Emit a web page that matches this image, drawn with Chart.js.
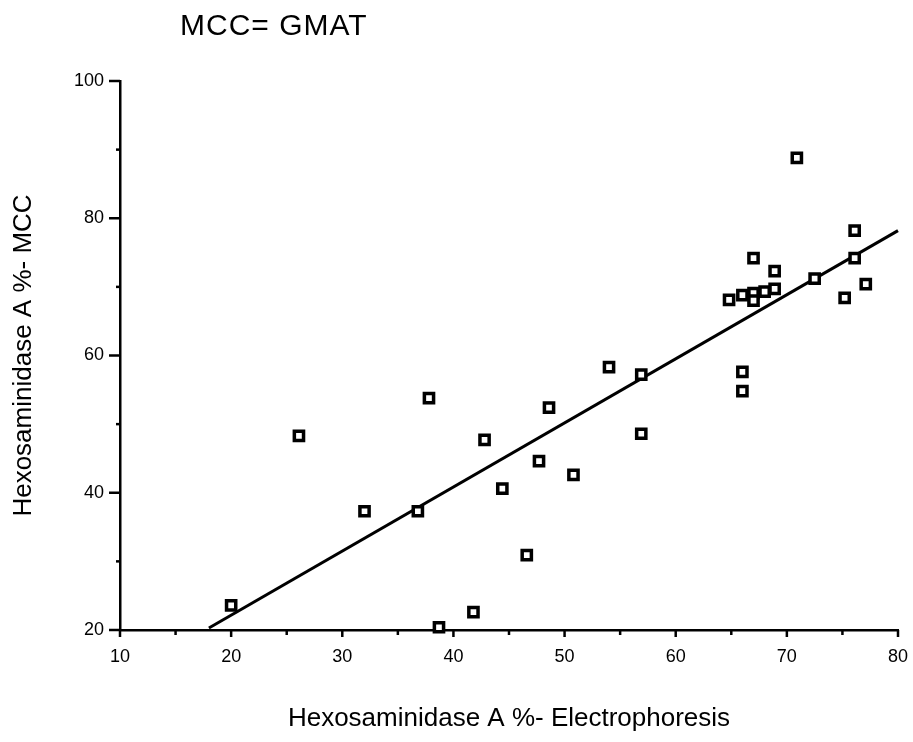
<!DOCTYPE html>
<html>
<head>
<meta charset="utf-8">
<script src="https://cdn.jsdelivr.net/npm/chart.js@4/dist/chart.umd.min.js"></script>
<style>
html,body{margin:0;padding:0;background:#fff;}
#wrap{width:913px;height:742px;position:relative;}
canvas{display:block;}
</style>
</head>
<body>
<div id="wrap"><canvas id="c" width="913" height="742"></canvas></div>
<script>
// Data
const electrophoresis = [20, 26.1, 32.0, 36.8, 37.8, 38.7, 41.8, 42.8, 44.4, 46.6, 47.7, 48.6, 50.8, 54.0, 56.9, 56.9, 64.8, 66.0, 66.0, 66.0, 67.0, 67.0, 67.0, 68.0, 68.9, 68.9, 70.9, 72.5, 75.2, 76.1, 76.1, 77.1];
const mcc = [23.6, 48.3, 37.3, 37.3, 53.8, 20.4, 22.6, 47.7, 40.6, 30.9, 44.6, 52.4, 42.6, 58.3, 57.2, 48.6, 68.1, 68.8, 57.6, 54.8, 74.2, 69.1, 68.0, 69.3, 72.3, 69.7, 88.8, 71.2, 68.4, 78.2, 74.2, 70.4];
const fitX = [18, 80];
const fitY = [20.3, 78.2];
const xMajorTicks = [10, 20, 30, 40, 50, 60, 70, 80];
const xMinorTicks = [15, 25, 35, 45, 55, 65, 75];
const yMajorTicks = [20, 40, 60, 80, 100];
const yMinorTicks = [30, 50, 70, 90];
const chartTitle = 'MCC= GMAT';
const xTitle = 'Hexosaminidase A %- Electrophoresis';
const yTitle = 'Hexosaminidase A %- MCC';

const points = electrophoresis.map((x, i) => ({x: x, y: mcc[i]}));
const fitPoints = fitX.map((x, i) => ({x: x, y: fitY[i]}));

const FONT = '"Liberation Sans", Arial, Helvetica, sans-serif';

const extras = {
  id: 'extras',
  afterDraw(chart) {
    const ctx = chart.ctx;
    const xs = chart.scales.x, ys = chart.scales.y;
    const area = chart.chartArea;
    ctx.save();
    ctx.strokeStyle = '#000';
    ctx.lineWidth = 2.5;
    ctx.lineCap = 'butt';
    const xl = (v, len) => {
      const px = xs.getPixelForValue(v);
      ctx.beginPath(); ctx.moveTo(px, area.bottom); ctx.lineTo(px, area.bottom + len); ctx.stroke();
    };
    const yl = (v, len) => {
      const py = ys.getPixelForValue(v);
      ctx.beginPath(); ctx.moveTo(area.left, py); ctx.lineTo(area.left - len, py); ctx.stroke();
    };
    xMajorTicks.forEach(v => xl(v, 7));
    xMinorTicks.forEach(v => xl(v, 5));
    yMajorTicks.forEach(v => yl(v, 11));
    yMinorTicks.forEach(v => yl(v, 4));
    ctx.fillStyle = '#000';
    ctx.font = '30px ' + FONT;
    try { ctx.letterSpacing = '1px'; } catch (e) {}
    ctx.textAlign = 'left';
    ctx.textBaseline = 'alphabetic';
    ctx.fillText(chartTitle, 180, 35);
    ctx.restore();
  }
};

new Chart(document.getElementById('c'), {
  type: 'scatter',
  data: {
    datasets: [
      {
        type: 'line',
        data: fitPoints,
        borderColor: '#000',
        borderWidth: 3,
        pointRadius: 0,
        fill: false,
        showLine: true,
        clip: false,
        order: 2
      },
      {
        data: points,
        pointStyle: 'rect',
        pointRadius: 6.5,
        pointBorderWidth: 3.5,
        pointBackgroundColor: '#fff',
        pointBorderColor: '#000',
        clip: false,
        order: 1
      }
    ]
  },
  plugins: [extras],
  options: {
    responsive: false,
    animation: false,
    devicePixelRatio: 1,
    layout: {autoPadding: false, padding: {top: 81, right: 15, left: 0, bottom: 0}},
    plugins: {legend: {display: false}, tooltip: {enabled: false}, title: {display: false}},
    scales: {
      x: {
        type: 'linear',
        min: 10, max: 80,
        afterFit(s) { s.height = 112; s.paddingLeft = 0; s.paddingRight = 0; },
        grid: {display: false, drawTicks: false},
        border: {display: true, color: '#000', width: 2.5},
        ticks: {stepSize: 10, padding: 16, color: '#000', font: {family: FONT, size: 18}},
        title: {display: true, text: xTitle, color: '#000', font: {family: FONT, size: 26}, padding: {top: 0, bottom: 8}}
      },
      y: {
        type: 'linear',
        min: 20, max: 100,
        afterFit(s) { s.width = 120; s.paddingTop = 0; s.paddingBottom = 0; },
        grid: {display: false, drawTicks: false},
        border: {display: true, color: '#000', width: 2.5},
        ticks: {stepSize: 20, padding: 16, color: '#000', font: {family: FONT, size: 18}},
        title: {display: true, text: yTitle, color: '#000', font: {family: FONT, size: 26}, padding: {top: 8, bottom: 0}}
      }
    }
  }
});
</script>
</body>
</html>
